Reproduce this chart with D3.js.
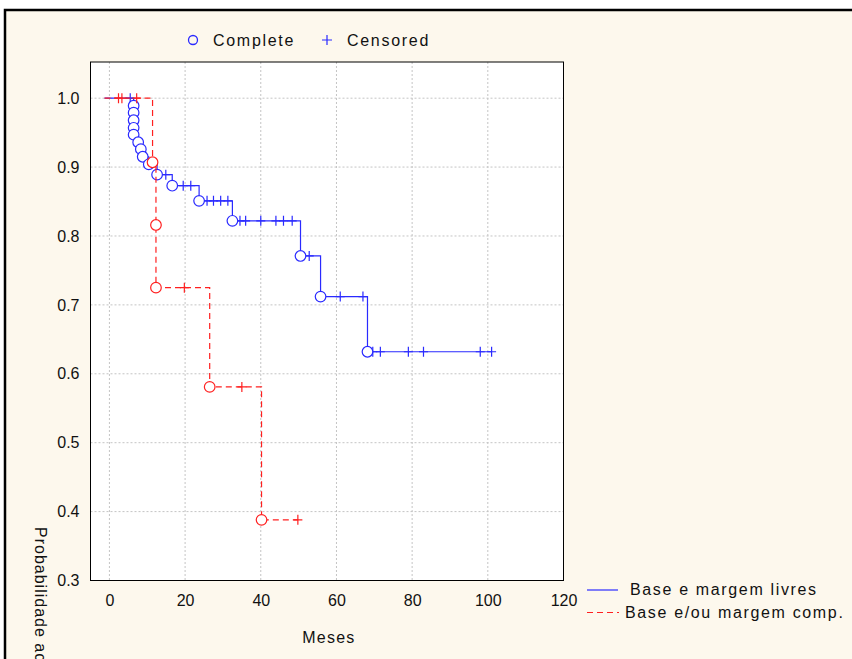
<!DOCTYPE html>
<html>
<head>
<meta charset="utf-8">
<script src="https://cdn.jsdelivr.net/npm/d3@7"></script>
<style>
  body { margin: 0; background: #ffffff; }
  svg text { font-family: "Liberation Sans", Arial, sans-serif; fill: #111; }
</style>
</head>
<body>
<div id="chart"></div>
<script>
// Kaplan-Meier data (time in months, survival probability)
const blueEventTimes = [6.4, 6.4, 6.4, 6.4, 6.4, 7.6, 8.3, 8.8, 10.4, 12.6, 16.6, 23.7, 32.5, 50.5, 55.8, 68.2];
const blueEventSurv  = [0.989, 0.979, 0.968, 0.957, 0.947, 0.936, 0.926, 0.915, 0.904, 0.889, 0.873, 0.851, 0.822, 0.771, 0.712, 0.632];
const blueCensored   = [5.5, 14.9, 19.5, 21.5, 25.8, 27.5, 29.4, 31.3, 34.5, 36, 40, 44, 46, 48.3, 52.8, 61, 67, 69.6, 71.6, 79, 83, 98, 101];

const redEventTimes = [11.4, 12.3, 12.3, 26.5, 40.2];
const redEventSurv  = [0.907, 0.816, 0.725, 0.581, 0.388];
const redCensored   = [2.4, 3.3, 7.2, 19.8, 35, 49.8];

const xTicks = [0, 20, 40, 60, 80, 100, 120];
const yTicks = [0.3, 0.4, 0.5, 0.6, 0.7, 0.8, 0.9, 1.0];

const seriesNames = ["Base e margem livres", "Base e/ou margem comp."];
const markerNames = ["Complete", "Censored"];

const W = 852, H = 659;
const BLUE = "#2a2aff", RED = "#ff2020";

const svg = d3.select("#chart").append("svg")
  .attr("width", W)
  .attr("height", H);

// Cream frame of the graph window
svg.append("rect")
  .attr("x", 5).attr("y", 10)
  .attr("width", W + 10).attr("height", H + 10)
  .attr("fill", "#fdf8ed")
  .attr("stroke", "#000")
  .attr("stroke-width", 2.5);

// Scales
const x = d3.scaleLinear().domain([-5, 120]).range([90.5, 563.5]);
const y = d3.scaleLinear().domain([0.3, 1.0525]).range([580.5, 62]);

// Plot area
svg.append("rect")
  .attr("x", x(-5)).attr("y", y(1.0525))
  .attr("width", x(120) - x(-5)).attr("height", y(0.3) - y(1.0525))
  .attr("fill", "#fff");

// Grid lines
const grid = svg.append("g").attr("stroke", "#c4c4c4").attr("stroke-dasharray", "2,2");
grid.selectAll("line.v")
  .data(xTicks.filter(d => d < 120))
  .join("line")
  .attr("x1", d => x(d)).attr("x2", d => x(d))
  .attr("y1", y(1.0525)).attr("y2", y(0.3));
grid.selectAll("line.h")
  .data(yTicks.filter(d => d > 0.3))
  .join("line")
  .attr("y1", d => y(d)).attr("y2", d => y(d))
  .attr("x1", x(-5)).attr("x2", x(120));

// Axes (labels only, Statistica style)
const xAxis = svg.append("g")
  .attr("transform", `translate(0,${y(0.3)})`)
  .call(d3.axisBottom(x).tickValues(xTicks).tickSize(0).tickPadding(14).tickFormat(d3.format("d")));
xAxis.select(".domain").remove();
xAxis.selectAll("text").attr("font-size", 16).attr("fill", "#111");

const yAxis = svg.append("g")
  .attr("transform", `translate(${x(-5)},0)`)
  .call(d3.axisLeft(y).tickValues(yTicks).tickSize(0).tickPadding(11).tickFormat(d3.format(".1f")));
yAxis.select(".domain").remove();
yAxis.selectAll("text").attr("font-size", 16).attr("fill", "#111");

/**
 * Build step points for a survival curve from its events and censored times
 */
function stepPoints(times, surv, censored)
{
  const pts = [[-1.3, 1]];
  let s = 1;
  times.forEach((t, i) => {
    pts.push([t, s]);
    s = surv[i];
    pts.push([t, s]);
  });
  pts.push([Math.max(d3.max(times), d3.max(censored)), s]);
  return pts;
}

/**
 * Survival value at a time (right-continuous step)
 */
function survAt(times, surv, t)
{
  let s = 1;
  times.forEach((et, i) => { if (et <= t) s = surv[i]; });
  return s;
}

const line = d3.line().x(d => x(d[0])).y(d => y(d[1]));
const plus = (rx, ry) => `M${-rx},0H${rx}M0,${-ry}V${ry}`;

function drawSeries(times, surv, censored, color, dash)
{
  const g = svg.append("g");

  g.append("path")
    .datum(stepPoints(times, surv, censored))
    .attr("d", line)
    .attr("fill", "none")
    .attr("stroke", color)
    .attr("stroke-width", 1.2)
    .attr("stroke-dasharray", dash);

  g.selectAll("path.cens")
    .data(censored)
    .join("path")
    .attr("class", "cens")
    .attr("transform", d => `translate(${x(d)},${y(survAt(times, surv, d))})`)
    .attr("d", plus(4.5, 5))
    .attr("stroke", color)
    .attr("stroke-width", 1.2);

  g.selectAll("circle")
    .data(times.map((t, i) => [t, surv[i]]))
    .join("circle")
    .attr("cx", d => x(d[0]))
    .attr("cy", d => y(d[1]))
    .attr("r", 5.3)
    .attr("fill", "#fff")
    .attr("stroke", color)
    .attr("stroke-width", 1.2);
}

drawSeries(blueEventTimes, blueEventSurv, blueCensored, BLUE, null);
drawSeries(redEventTimes, redEventSurv, redCensored, RED, "6,4");

// Plot border
svg.append("rect")
  .attr("x", x(-5)).attr("y", y(1.0525))
  .attr("width", x(120) - x(-5)).attr("height", y(0.3) - y(1.0525))
  .attr("fill", "none")
  .attr("stroke", "#000")
  .attr("stroke-width", 1);

// Top marker legend
svg.append("circle")
  .attr("cx", 193).attr("cy", 40).attr("r", 4.5)
  .attr("fill", "none").attr("stroke", BLUE).attr("stroke-width", 1.3);
svg.append("path")
  .attr("transform", "translate(327,40)")
  .attr("d", plus(5, 5))
  .attr("stroke", BLUE).attr("stroke-width", 1.2);
svg.selectAll("text.mk")
  .data(markerNames)
  .join("text")
  .attr("class", "mk")
  .attr("x", (d, i) => i === 0 ? 213 : 347)
  .attr("y", 46)
  .attr("font-size", 16)
  .attr("letter-spacing", 1.7)
  .text(d => d);

// Series legend
const legend = svg.append("g");
legend.append("line")
  .attr("x1", 587).attr("x2", 618).attr("y1", 590).attr("y2", 590)
  .attr("stroke", BLUE).attr("stroke-width", 1.2);
legend.append("line")
  .attr("x1", 587).attr("x2", 619).attr("y1", 612.5).attr("y2", 612.5)
  .attr("stroke", RED).attr("stroke-width", 1.2).attr("stroke-dasharray", "6,4");
legend.selectAll("text")
  .data(seriesNames)
  .join("text")
  .attr("x", (d, i) => i === 0 ? 630 : 625)
  .attr("y", (d, i) => i === 0 ? 595 : 618)
  .attr("font-size", 16)
  .attr("letter-spacing", 1.65)
  .text(d => d);

// Axis titles
svg.append("text")
  .attr("x", x(58)).attr("y", 643)
  .attr("text-anchor", "middle")
  .attr("font-size", 16)
  .attr("letter-spacing", 1.2)
  .text("Meses");

// Y title runs past the bottom edge, as in the reference
svg.append("text")
  .attr("transform", "translate(35,527) rotate(90)")
  .attr("font-size", 16)
  .attr("letter-spacing", 1)
  .text("Probabilidade acumulada de sobrevida");
</script>
</body>
</html>
